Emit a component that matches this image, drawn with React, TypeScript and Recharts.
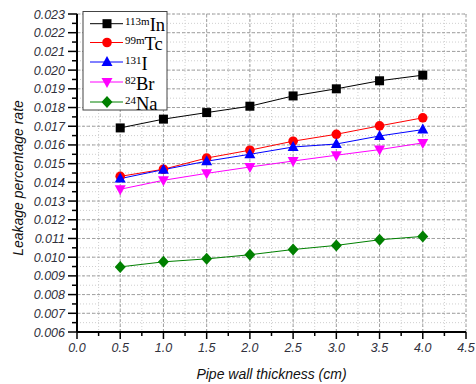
import { LineChart, Line, XAxis, YAxis, CartesianGrid, ReferenceLine, Label } from 'recharts';

/* ── Data ───────────────────────────────────────────────────────────── */
const thickness = [0.5, 1.0, 1.5, 2.0, 2.5, 3.0, 3.5, 4.0];
const in113m = [0.01691, 0.01738, 0.01773, 0.01807, 0.01862, 0.0190, 0.01943, 0.01973];
const tc99m = [0.01432, 0.0147, 0.0153, 0.01572, 0.0162, 0.01657, 0.01702, 0.01745];
const i131 = [0.0142, 0.01468, 0.01513, 0.0155, 0.01589, 0.01605, 0.01648, 0.01682];
const br82 = [0.01363, 0.01411, 0.01448, 0.01482, 0.01514, 0.01545, 0.01575, 0.01611];
const na24 = [0.00948, 0.00975, 0.00991, 0.01013, 0.01041, 0.01063, 0.01093, 0.01111];

const xTicks = [0, 0.25, 0.5, 0.75, 1, 1.25, 1.5, 1.75, 2, 2.25, 2.5, 2.75, 3, 3.25, 3.5, 3.75, 4, 4.25, 4.5];
const xMajor = [0.5, 1, 1.5, 2, 2.5, 3, 3.5, 4, 4.5];
const yTicks = [
  0.006, 0.0065, 0.007, 0.0075, 0.008, 0.0085, 0.009, 0.0095, 0.010, 0.0105, 0.011, 0.0115,
  0.012, 0.0125, 0.013, 0.0135, 0.014, 0.0145, 0.015, 0.0155, 0.016, 0.0165, 0.017, 0.0175,
  0.018, 0.0185, 0.019, 0.0195, 0.020, 0.0205, 0.021, 0.0215, 0.022, 0.0225, 0.023,
];
const yMajor = [0.007, 0.008, 0.009, 0.010, 0.011, 0.012, 0.013, 0.014, 0.015, 0.016, 0.017, 0.018, 0.019, 0.020, 0.021, 0.022, 0.023];

const data = thickness.map((t, i) => ({
  t, in113m: in113m[i], tc99m: tc99m[i], i131: i131[i], br82: br82[i], na24: na24[i],
}));

const TICK_FILL = '#30303c';
const TICK_FONT = '"Liberation Sans", Arial, sans-serif';

/* ── Markers ────────────────────────────────────────────────────────── */
type Shape = 'square' | 'circle' | 'up' | 'down' | 'diamond';

function Marker({ cx, cy, shape, fill }: { cx: number; cy: number; shape: Shape; fill: string }) {
  if (shape === 'square') return <rect x={cx - 4.5} y={cy - 4.5} width={9} height={9} fill={fill} />;
  if (shape === 'circle') return <circle cx={cx} cy={cy} r={4.8} fill={fill} />;
  if (shape === 'up') return <polygon points={`${cx},${cy - 6} ${cx - 5.5},${cy + 4} ${cx + 5.5},${cy + 4}`} fill={fill} />;
  if (shape === 'down') return <polygon points={`${cx},${cy + 6} ${cx - 5.5},${cy - 4} ${cx + 5.5},${cy - 4}`} fill={fill} />;
  return <polygon points={`${cx},${cy - 6} ${cx + 5.5},${cy} ${cx},${cy + 6} ${cx - 5.5},${cy}`} fill={fill} />;
}

const dotOf = (shape: Shape, fill: string) =>
  // eslint-disable-next-line @typescript-eslint/no-explicit-any
  (p: any) => (p.cx == null ? <g key={`d-${p.index}`} /> : <g key={`d-${p.index}`}><Marker cx={p.cx} cy={p.cy} shape={shape} fill={fill} /></g>);

const series: { key: string; color: string; shape: Shape; sup: string; name: string }[] = [
  { key: 'in113m', color: '#000000', shape: 'square', sup: '113m', name: 'In' },
  { key: 'tc99m', color: '#ff0000', shape: 'circle', sup: '99m', name: 'Tc' },
  { key: 'i131', color: '#0000ff', shape: 'up', sup: '131', name: 'I' },
  { key: 'br82', color: '#ff00ff', shape: 'down', sup: '82', name: 'Br' },
  { key: 'na24', color: '#008000', shape: 'diamond', sup: '24', name: 'Na' },
];

/* ── Ticks ──────────────────────────────────────────────────────────── */
// eslint-disable-next-line @typescript-eslint/no-explicit-any
function YTick({ x, y, payload }: any) {
  const v = payload.value as number;
  const major = Math.abs(v * 1000 - Math.round(v * 1000)) < 1e-6;
  const len = major ? 9 : 5;
  return (
    <g>
      <line x1={x} x2={x - len} y1={y} y2={y} stroke="#000" strokeWidth={1.5} />
      {major && (
        <text x={x - 12} y={y} dy="0.36em" textAnchor="end" fill={TICK_FILL}
          fontFamily={TICK_FONT} fontStyle="italic" fontSize={12.5}>
          {v.toFixed(3)}
        </text>
      )}
    </g>
  );
}

// eslint-disable-next-line @typescript-eslint/no-explicit-any
function XTick({ x, y, payload }: any) {
  const v = payload.value as number;
  const major = Math.abs(v * 2 - Math.round(v * 2)) < 1e-6;
  const len = major ? 7 : 4;
  return (
    <g>
      <line x1={x} x2={x} y1={y} y2={y + len} stroke="#000" strokeWidth={1.5} />
      {major && (
        <text x={x} y={y + 20} textAnchor="middle" fill={TICK_FILL}
          fontFamily={TICK_FONT} fontStyle="italic" fontSize={12.5}>
          {v.toFixed(1)}
        </text>
      )}
    </g>
  );
}

// eslint-disable-next-line @typescript-eslint/no-explicit-any
function YTitle({ viewBox }: any) {
  const cx = viewBox.x + 18;
  const cy = viewBox.y + viewBox.height / 2 + 5;
  return (
    <text x={cx} y={cy} transform={`rotate(-90 ${cx} ${cy})`} textAnchor="middle" dy="0.36em"
      fill="#111" fontFamily={TICK_FONT} fontStyle="italic" fontSize={14}>
      Leakage percentage rate
    </text>
  );
}

/* ── Legend box (overlay) ───────────────────────────────────────────── */
function LegendBox() {
  const rows = [23.7, 42.5, 62, 82, 102];
  return (
    <svg width={476} height={384} style={{ position: 'absolute', left: 0, top: 0, pointerEvents: 'none' }}>
      <rect x={83} y={11.5} width={84} height={98.5} fill="#fff" stroke="#444" strokeWidth={1} />
      {series.map((s, i) => (
        <g key={s.key}>
          <line x1={90} x2={123} y1={rows[i]} y2={rows[i]} stroke={s.color} strokeWidth={1} />
          <Marker cx={107} cy={rows[i]} shape={s.shape} fill={s.color} />
          <text x={125} y={rows[i] + 7.5} fontFamily='"Liberation Serif", "Times New Roman", serif' fill="#000">
            <tspan fontSize={11} dy={-6}>{s.sup}</tspan>
            <tspan fontSize={18.5} dy={6}>{s.name}</tspan>
          </text>
        </g>
      ))}
    </svg>
  );
}

/* ── Chart ──────────────────────────────────────────────────────────── */
export default function App() {
  return (
    <div style={{ position: 'absolute', left: 0, top: 0, width: 476, height: 384, background: '#fff' }}>
      <LineChart width={476} height={384} data={data} margin={{ top: 14, right: 10, left: 0, bottom: 0 }}>
        <CartesianGrid stroke="#cfcfcf" strokeDasharray="1 2" />
        {yMajor.map((v) => (
          <ReferenceLine key={`hy-${v}`} y={v} stroke="#a0a0a0" strokeDasharray="3 2" />
        ))}
        {xMajor.map((v) => (
          <ReferenceLine key={`vx-${v}`} x={v} stroke="#a0a0a0" strokeDasharray="3 2" />
        ))}

        <XAxis
          dataKey="t" type="number" domain={[0, 4.5]} ticks={xTicks} interval={0}
          height={52} tickSize={0} tickMargin={0} tickLine={false}
          axisLine={{ stroke: '#000', strokeWidth: 2 }} tick={<XTick />}
        >
          <Label value="Pipe wall thickness (cm)" position="insideBottom" offset={5}
            style={{ fontFamily: TICK_FONT, fontStyle: 'italic', fontSize: 14, fill: '#111' }} />
        </XAxis>
        <YAxis
          type="number" domain={[0.006, 0.023]} ticks={yTicks} interval={0}
          width={77} tickSize={0} tickMargin={0} tickLine={false}
          axisLine={{ stroke: '#000', strokeWidth: 2 }} tick={<YTick />}
        >
          <Label content={<YTitle />} />
        </YAxis>

        {series.map((s) => (
          <Line key={s.key} dataKey={s.key} stroke={s.color} strokeWidth={1}
            dot={dotOf(s.shape, s.color)} activeDot={false} isAnimationActive={false} />
        ))}
      </LineChart>
      <LegendBox />
    </div>
  );
}
